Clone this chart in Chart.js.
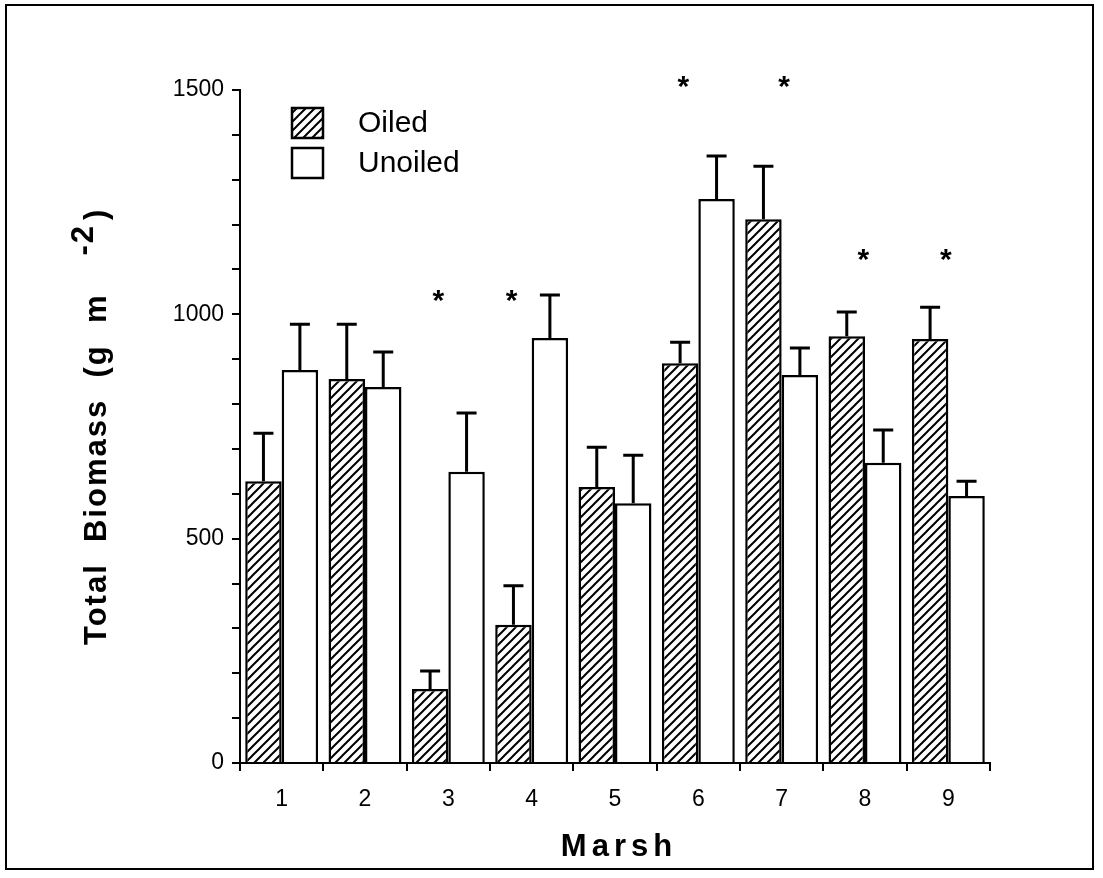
<!DOCTYPE html>
<html>
<head>
<meta charset="utf-8">
<script src="https://cdn.jsdelivr.net/npm/chart.js@4.4.1/dist/chart.umd.min.js"></script>
<style>
  html, body { margin: 0; padding: 0; background: #fff; }
  #wrap { width: 1103px; height: 878px; }
</style>
</head>
<body>
<div id="wrap"><canvas id="chart"></canvas></div>
<script>
const marshes = ['1', '2', '3', '4', '5', '6', '7', '8', '9'];
const oiledMean = [628, 856, 165, 308, 615, 891, 1212, 951, 945];
const oiledSE = [107, 122, 40, 87, 89, 47, 118, 54, 71];
const unoiledMean = [876, 838, 649, 947, 579, 1257, 865, 669, 595];
const unoiledSE = [102, 78, 131, 96, 107, 96, 60, 73, 33];
// significance markers: position along the marsh axis (category index) and height
const sigPos = [1.88, 2.76, 4.82, 6.03, 6.98, 7.97];
const sigLevel = [1047, 1047, 1525, 1525, 1139, 1139];

const FONT = '"Liberation Sans", Arial, Helvetica, sans-serif';
Chart.defaults.font.family = FONT;
Chart.defaults.color = '#000';

const ctx = document.getElementById('chart').getContext('2d');

function makeHatch() {
  const size = 9;
  const c = document.createElement('canvas');
  c.width = size; c.height = size;
  const g = c.getContext('2d');
  g.fillStyle = '#fff';
  g.fillRect(0, 0, size, size);
  g.strokeStyle = '#000';
  g.lineWidth = 2;
  g.beginPath();
  g.moveTo(-2, size + 2); g.lineTo(size + 2, -2);
  g.moveTo(-2, 2); g.lineTo(2, -2);
  g.moveTo(size - 2, size + 2); g.lineTo(size + 2, size - 2);
  g.stroke();
  return ctx.createPattern(c, 'repeat');
}
const hatch = makeHatch();

const framePlugin = {
  id: 'frame',
  beforeDraw(chart) {
    const c = chart.ctx;
    c.save();
    c.fillStyle = '#fff';
    c.fillRect(0, 0, chart.width, chart.height);
    c.strokeStyle = '#000';
    c.lineWidth = 2;
    c.strokeRect(6, 5, chart.width - 16, chart.height - 14);
    c.restore();
  }
};

const errorBars = {
  id: 'errorBars',
  afterDatasetsDraw(chart) {
    const { ctx: c, scales: { y } } = chart;
    c.save();
    c.strokeStyle = '#000';
    c.lineWidth = 3;
    chart.data.datasets.forEach((ds, di) => {
      chart.getDatasetMeta(di).data.forEach((bar, i) => {
        const top = y.getPixelForValue(ds.data[i] + ds.se[i]);
        c.beginPath();
        c.moveTo(bar.x, bar.y);
        c.lineTo(bar.x, top);
        c.moveTo(bar.x - 10, top);
        c.lineTo(bar.x + 10, top);
        c.stroke();
      });
    });
    c.restore();
  }
};

const stars = {
  id: 'stars',
  afterDatasetsDraw(chart) {
    const { ctx: c, scales: { x, y } } = chart;
    c.save();
    c.font = 'bold 30px ' + FONT;
    c.textAlign = 'center';
    c.textBaseline = 'alphabetic';
    sigPos.forEach((p, i) => {
      c.fillText('*', x.getPixelForValue(p), y.getPixelForValue(sigLevel[i]) + 17);
    });
    c.restore();
  }
};

const legendBox = {
  id: 'legendBox',
  afterDraw(chart) {
    const c = chart.ctx;
    const area = chart.chartArea;
    c.save();
    c.font = '30px ' + FONT;
    c.textBaseline = 'middle';
    chart.data.datasets.forEach((ds, i) => {
      const bx = area.left + 52, by = area.top + 18 + i * 40;
      c.fillStyle = ds.backgroundColor;
      c.fillRect(bx, by, 31, 30);
      c.strokeStyle = '#000';
      c.lineWidth = 2.5;
      c.strokeRect(bx, by, 31, 30);
      c.fillStyle = '#000';
      c.fillText(ds.label, bx + 66, by + 16);
    });
    c.restore();
  }
};

const axisTitles = {
  id: 'axisTitles',
  afterDraw(chart) {
    const c = chart.ctx;
    const area = chart.chartArea;
    c.save();
    c.fillStyle = '#000';
    c.font = 'bold 31px ' + FONT;
    c.letterSpacing = '5px';
    c.textAlign = 'center';
    c.textBaseline = 'alphabetic';
    c.fillText('Marsh', (area.left + area.right) / 2 + 4, 856);

    c.letterSpacing = '2px';
    c.textAlign = 'left';
    c.translate(106, 645);
    c.rotate(-Math.PI / 2);
    const main = 'Total  Biomass  (g  m';
    c.fillText(main, 0, 0);
    let w = c.measureText(main).width + 38;
    c.fillText('-2', w, -13);
    w += c.measureText('-2').width + 4;
    c.fillText(')', w, 0);
    c.restore();
  }
};

new Chart(ctx, {
  type: 'bar',
  data: {
    labels: marshes,
    datasets: [
      {
        label: 'Oiled',
        data: oiledMean,
        se: oiledSE,
        backgroundColor: hatch,
        borderColor: '#000',
        borderWidth: 2.5,
      },
      {
        label: 'Unoiled',
        data: unoiledMean,
        se: unoiledSE,
        backgroundColor: '#fff',
        borderColor: '#000',
        borderWidth: 2.5,
      },
    ],
  },
  options: {
    animation: false,
    responsive: true,
    maintainAspectRatio: false,
    categoryPercentage: 0.875,
    barPercentage: 1.0,
    layout: { padding: { left: 0, right: 113, top: 90, bottom: 0 } },
    plugins: {
      legend: { display: false },
      tooltip: { enabled: false },
    },
    scales: {
      x: {
        grid: { offset: true, drawOnChartArea: false, color: '#000', lineWidth: 2, tickLength: 8 },
        border: { display: true, color: '#000', width: 2 },
        ticks: { font: { size: 23 }, padding: 15, color: '#000' },
        afterFit: (scale) => { scale.height = 115; },
      },
      y: {
        min: 0,
        max: 1500,
        grid: { drawOnChartArea: false, color: '#000', lineWidth: 2, tickLength: 8 },
        border: { display: true, color: '#000', width: 2 },
        ticks: {
          stepSize: 100,
          autoSkip: false,
          font: { size: 23 },
          padding: 8,
          color: '#000',
          callback: (v) => (v % 500 === 0 ? v : ''),
        },
        afterFit: (scale) => { scale.width = 240; },
      },
    },
  },
  plugins: [framePlugin, errorBars, stars, legendBox, axisTitles],
});
</script>
</body>
</html>
